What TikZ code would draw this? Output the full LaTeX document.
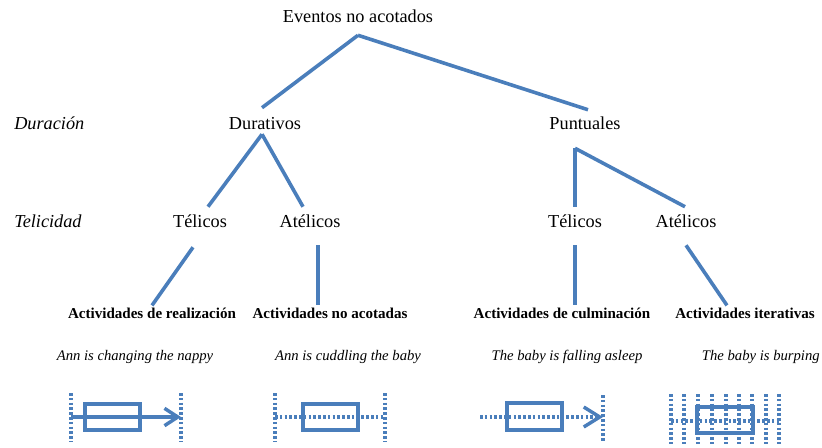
\documentclass[tikz,border=0pt]{standalone}
\usepackage{fontspec}
\setmainfont{Liberation Serif}
\usetikzlibrary{arrows.meta}
\definecolor{linkblue}{HTML}{4A7EBB}
\tikzset{
	link/.style={draw=linkblue,line width=2.7pt},
	cat/.style={font=\fontsize{13.7}{16}\selectfont,inner sep=0pt,text height=9pt,text depth=3pt},
	dim/.style={cat,font=\fontsize{13.7}{16}\selectfont\itshape,anchor=west},
	kind/.style={font=\fontsize{11.3}{13}\selectfont\bfseries,inner sep=0pt,text height=8pt,text depth=3pt},
	ex/.style={font=\fontsize{11}{13}\selectfont\itshape},
	dots/.style={draw=linkblue,line width=2.6pt,dash pattern=on 2pt off 1.6pt},
	bar/.style={draw=linkblue,line width=2.6pt},
	barb/.style={-{Straight Barb[length=10pt,width=13pt]}},
}

\begin{document}
\begin{tikzpicture}[x=0.75pt,y=-0.75pt]
	\useasboundingbox (0,0) rectangle (822,447);
	% tree
	\node [cat] (root) at (358,18) {Eventos no acotados};
	\node [dim] (duracion) at (14,125) {Duración};
	\node [cat] (durativos) at (265,125) {Durativos};
	\node [cat] (puntuales) at (585,125) {Puntuales};
	\node [dim] (telicidad) at (14,223) {Telicidad};
	\node [cat] (telicosA) at (200,223) {Télicos};
	\node [cat] (atelicosA) at (310,223) {Atélicos};
	\node [cat] (telicosB) at (575,223) {Télicos};
	\node [cat] (atelicosB) at (686,223) {Atélicos};
	\node [kind] (realizacion) at (152,315) {Actividades de realización};
	\node [kind] (noacotadas) at (330,315) {Actividades no acotadas};
	\node [kind] (culminacion) at (562,315) {Actividades de culminación};
	\node [kind] (iterativas) at (745,315) {Actividades iterativas};
	\node [ex] (exA) at (135,357) {Ann is changing the nappy};
	\node [ex] (exB) at (348,357) {Ann is cuddling the baby};
	\node [ex] (exC) at (567,357) {The baby is falling asleep};
	\node [ex,anchor=east,inner xsep=0pt] (exD) at (820,357) {The baby is burping};

	\draw [link] ([shift={(0,9)}]root.south) -- ([shift={(-3,-9)}]durativos.north);
	\draw [link] ([shift={(0,9)}]root.south) -- ([shift={(3,-7)}]puntuales.north);
	\draw [link] ([shift={(-3,1)}]durativos.south) -- ([shift={(8,-8)}]telicosA.north);
	\draw [link] ([shift={(-3,1)}]durativos.south) -- ([shift={(-7,-8)}]atelicosA.north);
	\draw [link] ([shift={(-10,15)}]puntuales.south) -- ([shift={(0,-8)}]telicosB.north);
	\draw [link] ([shift={(-10,15)}]puntuales.south) -- ([shift={(-1,-8)}]atelicosB.north);
	\draw [link] ([shift={(-7,16)}]telicosA.south) -- ([shift={(0,-2)}]realizacion.north);
	\draw [link] ([shift={(8,14)}]atelicosA.south) -- ([shift={(-12,-2)}]noacotadas.north);
	\draw [link] ([shift={(0,14)}]telicosB.south) -- ([shift={(13,-2)}]culminacion.north);
	\draw [link] ([shift={(0,14)}]atelicosB.south) -- ([shift={(-18,-2)}]iterativas.north);

	% time schemes
	\draw [dots] (71,393) -- (71,442);
	\draw [dots] (181,393) -- (181,442);
	\draw [bar] (85,404) rectangle (140,430);
	\draw [bar,barb] (71,417) -- (181,417);

	\draw [dots] (275,393) -- (275,442);
	\draw [dots] (385,393) -- (385,442);
	\draw [bar] (303,404) rectangle (358,430);
	\draw [dots] (275,417) -- (385,417);

	\draw [dots] (603,395) -- (603,442);
	\draw [bar] (507,403) rectangle (562,430);
	\draw [dots,-{Straight Barb[length=12pt,width=15pt]}] (480,417) -- (603,417);

	\foreach \x in {671,684,698,712,726,739,752,766,779}
		\draw [dots] (\x,394) -- (\x,444);
	\draw [bar] (697,407) rectangle (753,433);
	\draw [dots] (671,421) -- (779,421);
\end{tikzpicture}
\end{document}
